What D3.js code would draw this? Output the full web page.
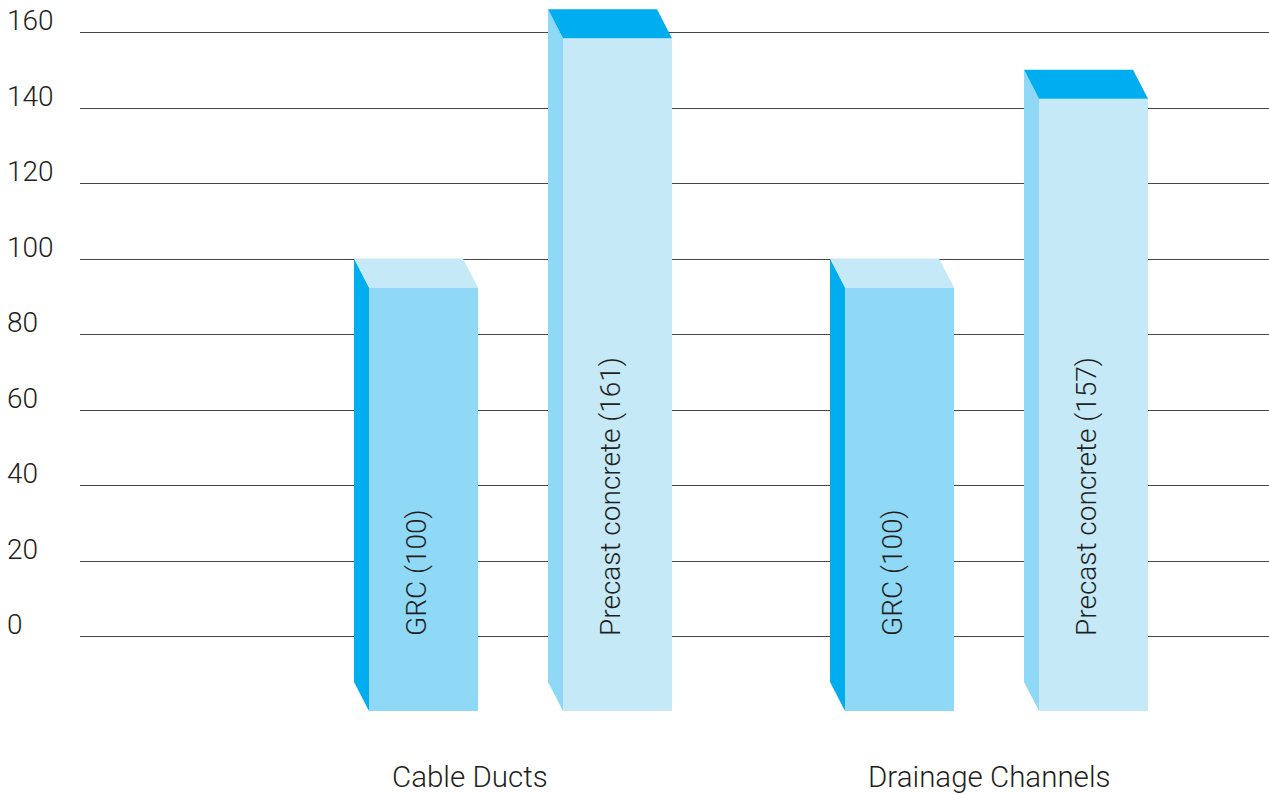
<!DOCTYPE html>
<html>
<head>
<meta charset="utf-8">
<script src="https://d3js.org/d3.v7.min.js"></script>
<style>
  body { margin: 0; background: #fff; }
  text { font-family: Roboto, "Open Sans", sans-serif; font-weight: 300; fill: #231f20; }
</style>
</head>
<body>
<svg id="vis"></svg>
<script>
    // chart data
    var categories = ["Cable Ducts", "Drainage Channels"];
    var series = ["GRC", "Precast concrete"];
    var grcValues = [100, 100];
    var precastValues = [166, 150];   // heights as drawn
    var grcLabels = ["GRC (100)", "GRC (100)"];
    var precastLabels = ["Precast concrete (161)", "Precast concrete (157)"];
    var yTicks = [0, 20, 40, 60, 80, 100, 120, 140, 160];

    var width = 1269, height = 794;

    var svg = d3.select("#vis")
        .attr("width", width)
        .attr("height", height);

    // scales
    var y = d3.scaleLinear()
        .domain([0, 160])
        .range([636, 32]);

    var x0 = d3.scaleBand()
        .domain(categories)
        .range([354, 1148])
        .paddingInner(0.332)
        .paddingOuter(0);

    var x1 = d3.scaleBand()
        .domain(series)
        .range([0, x0.bandwidth()])
        .paddingInner(0.361)
        .paddingOuter(0);

    // colors: side, front, top
    var colors = {
        "GRC": {side: "#00aeef", front: "#8fd8f6", top: "#c6e9f8"},
        "Precast concrete": {side: "#8fd8f6", front: "#c6e9f8", top: "#00aeef"}
    };

    // gridlines
    svg.append("g")
        .selectAll("line")
        .data(yTicks)
        .enter()
        .append("line")
        .attr("x1", 80)
        .attr("x2", width)
        .attr("y1", function(d) { return Math.round(y(d)) + 0.5; })
        .attr("y2", function(d) { return Math.round(y(d)) + 0.5; })
        .attr("stroke", "#444")
        .attr("stroke-width", 1);

    // y tick labels
    svg.append("g")
        .selectAll("text")
        .data(yTicks)
        .enter()
        .append("text")
        .attr("x", 7)
        .attr("y", function(d) { return y(d) - 2; })
        .style("font-size", "28px")
        .text(function(d) { return d; });

    // build bar records
    var bars = [];
    categories.forEach(function(c, i) {
        bars.push({cat: c, s: "GRC", value: grcValues[i], label: grcLabels[i]});
        bars.push({cat: c, s: "Precast concrete", value: precastValues[i], label: precastLabels[i]});
    });

    var dx = 15, dy = 29;
    var bottom = y(0) + 75;

    var barG = svg.append("g")
        .selectAll("g")
        .data(bars)
        .enter()
        .append("g");

    // left side face
    barG.append("path")
        .attr("fill", function(d) { return colors[d.s].side; })
        .attr("d", function(d) {
            var x = x0(d.cat) + x1(d.s);
            var t = y(d.value);
            return "M" + x + "," + t +
                   "L" + (x + dx) + "," + (t + dy) +
                   "L" + (x + dx) + "," + bottom +
                   "L" + x + "," + (bottom - dy) + "Z";
        });

    // front face
    barG.append("rect")
        .attr("fill", function(d) { return colors[d.s].front; })
        .attr("x", function(d) { return x0(d.cat) + x1(d.s) + dx; })
        .attr("y", function(d) { return y(d.value) + dy; })
        .attr("width", x1.bandwidth() - dx)
        .attr("height", function(d) { return bottom - y(d.value) - dy; });

    // top face
    barG.append("path")
        .attr("fill", function(d) { return colors[d.s].top; })
        .attr("d", function(d) {
            var x = x0(d.cat) + x1(d.s);
            var w = x1.bandwidth();
            var t = y(d.value);
            return "M" + x + "," + t +
                   "L" + (x + w - dx) + "," + t +
                   "L" + (x + w) + "," + (t + dy) +
                   "L" + (x + dx) + "," + (t + dy) + "Z";
        });

    // rotated labels inside the bars
    barG.append("text")
        .attr("transform", function(d) {
            var cx = x0(d.cat) + x1(d.s) + dx + (x1.bandwidth() - dx) / 2 + 2.5;
            return "translate(" + cx + "," + y(0) + ") rotate(-90)";
        })
        .attr("text-anchor", "start")
        .style("font-size", "28px")
        .text(function(d) { return d.label; });

    // category labels
    svg.append("g")
        .selectAll("text")
        .data(categories)
        .enter()
        .append("text")
        .attr("x", function(d) { return x0(d) + 38; })
        .attr("y", 787)
        .style("font-size", "29.5px")
        .text(function(d) { return d; });
</script>
</body>
</html>
